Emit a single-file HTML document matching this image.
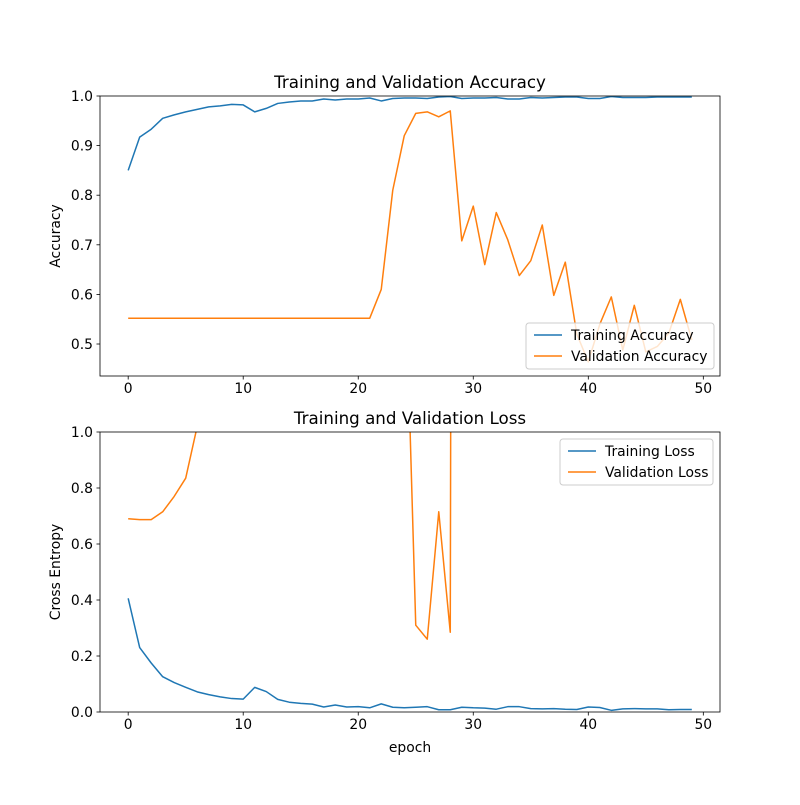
<!DOCTYPE html>
<html><head><meta charset="utf-8"><style>
body{margin:0;background:#fff}
svg text{font-family:"DejaVu Sans","Liberation Sans",sans-serif;fill:#000}
</style></head><body>
<svg id="chart" width="800" height="800" viewBox="0 0 800 800" xmlns="http://www.w3.org/2000/svg">
<defs>
<clipPath id="c1"><rect x="100" y="96" width="620" height="280"/></clipPath>
<clipPath id="c2"><rect x="100" y="432" width="620" height="280"/></clipPath>
</defs>
<g id="g"></g>
</svg>
<script>
const epochs = Array.from({length:50},(_, i)=>i);
const trainAcc = [0.85,0.917,0.933,0.955,0.962,0.968,0.973,0.978,0.98,0.983,0.982,0.968,0.975,0.985,0.988,0.99,0.99,0.994,0.992,0.994,0.994,0.996,0.99,0.995,0.996,0.996,0.995,0.998,0.999,0.995,0.996,0.996,0.997,0.994,0.994,0.997,0.996,0.997,0.998,0.998,0.995,0.995,0.999,0.997,0.997,0.997,0.998,0.998,0.998,0.998];
const valAcc = [0.552,0.552,0.552,0.552,0.552,0.552,0.552,0.552,0.552,0.552,0.552,0.552,0.552,0.552,0.552,0.552,0.552,0.552,0.552,0.552,0.552,0.552,0.61,0.81,0.92,0.965,0.968,0.958,0.97,0.708,0.778,0.66,0.765,0.71,0.638,0.668,0.74,0.598,0.665,0.52,0.464,0.54,0.595,0.488,0.578,0.484,0.495,0.522,0.59,0.508];
const trainLoss = [0.406,0.23,0.175,0.126,0.105,0.088,0.072,0.062,0.054,0.048,0.046,0.088,0.073,0.045,0.035,0.031,0.028,0.018,0.025,0.018,0.019,0.015,0.029,0.017,0.015,0.017,0.019,0.008,0.008,0.017,0.015,0.014,0.01,0.019,0.019,0.012,0.011,0.012,0.01,0.009,0.018,0.016,0.006,0.011,0.012,0.011,0.011,0.008,0.009,0.009];
const valLoss = [0.69,0.687,0.687,0.715,0.77,0.835,1.02,1.6,2.4,3.1,3.5,3.2,3.8,4.1,4.5,4.0,4.8,5.2,5.0,5.5,5.9,6.2,4.5,3.0,1.72,0.31,0.26,0.715,0.285,20,18,22,19,21,24,20,23,25,22,26,24,27,25,28,26,29,27,30,28,31];
const xTicks = [0,10,20,30,40,50];
const accTicks = [0.5,0.6,0.7,0.8,0.9,1.0];
const lossTicks = [0.0,0.2,0.4,0.6,0.8,1.0];

const NS="http://www.w3.org/2000/svg";
const g=document.getElementById('g');
function mk(tag,attrs,parent){const e=document.createElementNS(NS,tag);for(const k in attrs)e.setAttribute(k,attrs[k]);(parent||g).appendChild(e);return e;}
const X0=100,X1=720,xmin=-2.45,xmax=51.45;
const xs=v=>X0+(v-xmin)/(xmax-xmin)*(X1-X0);
function ys(top,bot,lo,hi){return v=>bot-(v-lo)/(hi-lo)*(bot-top);}
const yA=ys(96,376,0.4355,1.0);
const yL=ys(432,712,0,1.0);

function panel(top,yf,ticks,fmt,title,ylabel,series,clip,name){
  const pg=mk('g',{});
  
  
  series.forEach(s=>{
    const d=s.data.map((v,i)=>(i?'L':'M')+xs(epochs[i]).toFixed(2)+','+yf(v).toFixed(2)).join('');
    const p=mk('path',{d:d,fill:'none',stroke:s.color,'stroke-width':1.5,'clip-path':'url(#'+clip+')','stroke-linejoin':'round'},pg);
    
    
  });
  const fr=mk('rect',{x:X0,y:top,width:X1-X0,height:280,fill:'none',stroke:'#000','stroke-width':0.8},pg);
  
  
  xTicks.forEach(t=>{
    const x=xs(t);
    mk('line',{x1:x,x2:x,y1:top+280,y2:top+283.5,stroke:'#000','stroke-width':0.8},pg);
    const tx=mk('text',{x:x,y:top+280+17,'font-size':13.9,'text-anchor':'middle'},pg);
    tx.textContent=t;
    
    
  });
  ticks.forEach(t=>{
    const y=yf(t);
    mk('line',{x1:X0,x2:X0-3.5,y1:y,y2:y,stroke:'#000','stroke-width':0.8},pg);
    const tx=mk('text',{x:X0-7,y:y+5,'font-size':13.9,'text-anchor':'end'},pg);
    tx.textContent=fmt(t);
    
    
  });
  const tt=mk('text',{x:410,y:top-8,'font-size':16.7,'text-anchor':'middle'},pg);
  tt.textContent=title;
  
  
  const yl=mk('text',{x:0,y:0,'font-size':13.9,'text-anchor':'middle',transform:'translate(60,'+(top+140)+') rotate(-90)'},pg);
  yl.textContent=ylabel;
  
  
}
panel(96,yA,accTicks,t=>t.toFixed(1),'Training and Validation Accuracy','Accuracy',
  [{data:trainAcc,color:'#1f77b4',name:'training-accuracy-line'},{data:valAcc,color:'#ff7f0e',name:'validation-accuracy-line'}],'c1','accuracy-panel');
panel(432,yL,lossTicks,t=>t.toFixed(1),'Training and Validation Loss','Cross Entropy',
  [{data:trainLoss,color:'#1f77b4',name:'training-loss-line'},{data:valLoss,color:'#ff7f0e',name:'validation-loss-line'}],'c2','loss-panel');

function legend(x,y,w,items,name){
  const lg=mk('g',{});
  
  
  mk('rect',{x:x,y:y,width:w,height:46,rx:3,fill:'#fff','fill-opacity':0.8,stroke:'#ccc','stroke-width':1},lg);
  items.forEach((it,i)=>{
    const cy=y+12+i*21;
    mk('line',{x1:x+8,x2:x+36,y1:cy,y2:cy,stroke:it.c,'stroke-width':1.5},lg);
    const t=mk('text',{x:x+45,y:cy+5,'font-size':13.9},lg);
    t.textContent=it.t;
    
    
  });
}
legend(526,323,188,[{c:'#1f77b4',t:'Training Accuracy'},{c:'#ff7f0e',t:'Validation Accuracy'}],'accuracy-legend');
legend(560,439,153,[{c:'#1f77b4',t:'Training Loss'},{c:'#ff7f0e',t:'Validation Loss'}],'loss-legend');

const xl=mk('text',{x:410,y:752,'font-size':13.9,'text-anchor':'middle'});
xl.textContent='epoch';


</script>
</body></html>
